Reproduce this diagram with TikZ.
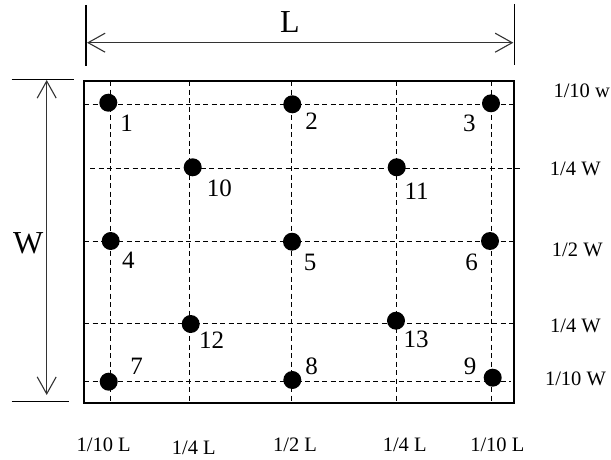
\documentclass[tikz,border=0pt]{standalone}
\usepackage{fontspec}
\setmainfont{Liberation Serif}
\usepackage{tikz}
\usetikzlibrary{arrows.meta}

\begin{document}
\begin{tikzpicture}[x=10pt,y=10pt,
  dot/.style={circle,fill=black,inner sep=0pt,minimum size=18pt},
  num/.style={inner sep=0pt,font=\fontsize{25}{25}\selectfont},
  lab/.style={inner sep=0pt,font=\fontsize{20.5}{20.5}\selectfont},
  big/.style={inner sep=0pt,font=\fontsize{32}{32}\selectfont},
  gridline/.style={black,line width=1pt,dash pattern=on 5pt off 3.5pt},
  dim/.style={black!80,line width=1.1pt,{Straight Barb[length=17pt,width=19pt]}-{Straight Barb[length=17pt,width=19pt]}}]
\useasboundingbox (0,0) rectangle (61.1,45.9);
% Plate outline
\draw[line width=1.8pt] (8.42,5.57) rectangle (51.4,37.78);
% Dashed grid (columns)
\foreach \x in {11.0,18.97,29.18,39.67,49.1}
  \draw[gridline] (\x,37.78) -- (\x,5.6);
% Dashed grid (rows)
\draw[gridline] (8.42,35.47) -- (51.6,35.47);
\draw[gridline] (9.0,29.07) -- (52.3,29.07);
\draw[gridline] (8.42,21.73) -- (51.4,21.73);
\draw[gridline] (8.42,13.57) -- (51.5,13.57);
\draw[gridline] (8.42,7.8) -- (51.1,7.8);
% Measuring points
\node[dot] (p1) at (10.83,35.63) {};
\node[dot] (p2) at (29.23,35.47) {};
\node[dot] (p3) at (49.1,35.57) {};
\node[dot] (p10) at (19.27,29.17) {};
\node[dot] (p11) at (39.67,29.17) {};
\node[dot] (p4) at (11.07,21.8) {};
\node[dot] (p5) at (29.2,21.73) {};
\node[dot] (p6) at (49.0,21.8) {};
\node[dot] (p12) at (19.07,13.5) {};
\node[dot] (p13) at (39.6,13.83) {};
\node[dot] (p7) at (10.87,7.73) {};
\node[dot] (p8) at (29.23,7.9) {};
\node[dot] (p9) at (49.27,8.13) {};
% Point numbers
\node[num] (n1) at (12.67,33.57) {1};
\node[num] (n2) at (31.17,33.73) {2};
\node[num] (n3) at (46.93,33.57) {3};
\node[num] (n10) at (21.93,27.07) {10};
\node[num] (n11) at (41.67,26.73) {11};
\node[num] (n4) at (12.83,19.9) {4};
\node[num] (n5) at (31.0,19.67) {5};
\node[num] (n6) at (47.17,19.67) {6};
\node[num] (n12) at (21.17,11.9) {12};
\node[num] (n13) at (41.6,11.97) {13};
\node[num] (n7) at (13.67,9.23) {7};
\node[num] (n8) at (31.17,9.23) {8};
\node[num] (n9) at (47.0,9.3) {9};
% Length dimension
\draw[line width=1.5pt] (8.6,45.4) -- (8.6,39.33);
\draw[line width=1.5pt] (51.43,45.5) -- (51.43,39.4);
\coordinate (dimL1) at (8.7,41.63);
\coordinate (dimL2) at (51.33,41.63);
\draw[dim] (dimL1) -- (dimL2);
\node[big] (lenL) at (29.0,43.7) {L};
% Width dimension
\draw[line width=1.2pt] (1.17,37.97) -- (7.4,37.97);
\draw[line width=1.2pt] (1.17,5.73) -- (6.93,5.73);
\coordinate (dimW1) at (4.67,37.9);
\coordinate (dimW2) at (4.67,6.4);
\draw[dim] (dimW1) -- (dimW2);
\node[big] (widW) at (2.83,21.57) {W};
% Row labels (right)
\node[lab] (r1) at (58.17,36.8) {1/10 w};
\node[lab] (r2) at (57.53,28.97) {1/4 W};
\node[lab] (r3) at (57.73,20.9) {1/2 W};
\node[lab] (r4) at (57.55,13.3) {1/4 W};
\node[lab] (r5) at (57.55,7.97) {1/10 W};
% Column labels (below)
\node[lab] (c1) at (10.37,1.4) {1/10 L};
\node[lab] (c2) at (19.38,1.07) {1/4 L};
\node[lab] (c3) at (29.5,1.4) {1/2 L};
\node[lab] (c4) at (40.47,1.4) {1/4 L};
\node[lab] (c5) at (49.73,1.4) {1/10 L};
\end{tikzpicture}
\end{document}
